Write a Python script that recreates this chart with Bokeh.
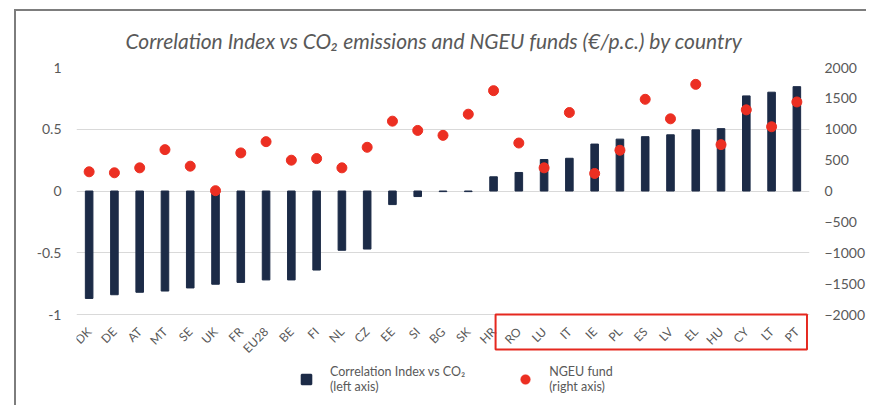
import math
from bokeh.plotting import figure
from bokeh.models import (Range1d, LinearAxis, FixedTicker, CustomJSTickFormatter,
                          Legend, LegendItem, BoxAnnotation, ColumnDataSource)
from bokeh.core.properties import value
from bokeh.embed import file_html
from bokeh.resources import INLINE

countries = ["DK", "DE", "AT", "MT", "SE", "UK", "FR", "EU28", "BE", "FI", "NL", "CZ",
             "EE", "SI", "BG", "SK", "HR", "RO", "LU", "IT", "IE", "PL", "ES", "LV",
             "EL", "HU", "CY", "LT", "PT"]
corr_index = [-0.87, -0.84, -0.82, -0.81, -0.785, -0.755, -0.74, -0.72, -0.72, -0.64,
              -0.48, -0.47, -0.11, -0.045, -0.005, -0.005, 0.115, 0.15, 0.255, 0.265,
              0.38, 0.42, 0.44, 0.455, 0.495, 0.505, 0.77, 0.80, 0.845]
ngeu_fund = [311, 295, 375, 670, 402, 5, 617, 799, 499, 525, 375, 708, 1131, 981, 901,
             1244, 1625, 777, 375, 1271, 284, 660, 1485, 1169, 1727, 751, 1314, 1040, 1442]
left_ticks = [-1, -0.5, 0, 0.5, 1]
right_ticks = [-2000, -1500, -1000, -500, 0, 500, 1000, 1500, 2000]

NAVY = "#1c2b47"
RED = "#ec2f22"
GREY = "#595959"
FONT = "Lato"

# frame extends below the -1 line so that labels, box and legend can live inside it
Y_BOTTOM = -1.753
src = ColumnDataSource(dict(country=countries, corr=corr_index, fund=ngeu_fund,
                            lab_y=[-1.0] * len(countries)))

p = figure(x_range=countries, y_range=Range1d(Y_BOTTOM, 1), width=852, height=396,
           output_backend="svg", toolbar_location=None,
           min_border_left=60, min_border_right=55, min_border_top=56, min_border_bottom=0)
p.margin = (9, 0, 0, 14)
p.styles = {"border-top": "2px solid #7d7d7d", "border-left": "2px solid #7d7d7d"}
p.extra_y_ranges = {"right": Range1d(Y_BOTTOM * 2000, 2000),
                    # range that shows none of the data: used only for legend swatches
                    "legend_proxy": Range1d(5000, 6000)}

p.title.text = "Correlation Index vs CO\u2082 emissions and NGEU funds (\u20ac/p.c.) by country"
p.title.text_font = FONT
p.title.text_font_style = "italic"
p.title.text_font_size = "21px"
p.title.text_color = GREY
p.title.align = "left"
p.title.offset = 49
p.title.standoff = 29

bars = p.vbar(x="country", top="corr", width=0.3, source=src, color=NAVY)
dots = p.scatter(x="country", y="fund", y_range_name="right", source=src,
                 size=10, color=RED, marker="circle")

# legend swatch renderers (their data fall outside their range, so only the legend shows them)
leg_sq = p.scatter(x="country", y="corr", y_range_name="legend_proxy", source=src,
                   marker="square", fill_color=NAVY, line_color=NAVY, line_width=2)
leg_dot = p.scatter(x="country", y="fund", y_range_name="legend_proxy", source=src,
                    marker="circle", fill_color=RED, line_color=RED, line_width=0.5)

# category labels, rotated
p.text(x="country", y="lab_y", text="country", source=src, angle=math.pi / 4,
       text_align="right", text_baseline="middle", x_offset=0, y_offset=15,
       text_font=value(FONT), text_font_size="12px", text_color=GREY)

# axes
p.xaxis.visible = False
p.yaxis.ticker = FixedTicker(ticks=left_ticks)
p.yaxis.formatter = CustomJSTickFormatter(code="return tick.toString();")
ra = LinearAxis(y_range_name="right", ticker=FixedTicker(ticks=right_ticks))
p.add_layout(ra, "right")
for ax in (p.yaxis[0], ra):
    ax.axis_line_color = None
    ax.major_tick_line_color = None
    ax.minor_tick_line_color = None
    ax.major_tick_out = 0
    ax.major_tick_in = 0
    ax.minor_tick_out = 0
    ax.major_label_text_font = FONT
    ax.major_label_text_font_size = "14px"
    ax.major_label_text_color = GREY
p.yaxis[0].major_label_standoff = 15
ra.major_label_standoff = 15

p.xgrid.grid_line_color = None
p.ygrid.grid_line_color = "#d9d9d9"
p.ygrid.ticker = FixedTicker(ticks=left_ticks)
p.outline_line_color = None

box = BoxAnnotation(left=16.58, right=28.9, top=-1.0, bottom=-1.283,
                    fill_alpha=0, line_color="#e5281f", line_width=2, line_alpha=1)
p.add_layout(box)

legend = Legend(items=[
    LegendItem(label="Correlation Index vs CO\u2082\n(left axis)", renderers=[leg_sq], index=0),
    LegendItem(label="NGEU fund\n(right axis)", renderers=[leg_dot], index=0),
], orientation="horizontal", location=(218, 13))
legend.label_text_font = FONT
legend.label_text_font_size = "12.5px"
legend.label_text_line_height = 1.45
legend.label_text_color = GREY
legend.label_standoff = 12
legend.border_line_color = None
legend.background_fill_alpha = 0
legend.spacing = 48
legend.glyph_width = 24
legend.glyph_height = 24
legend.padding = 0
legend.margin = 0
p.add_layout(legend, "center")

open("out.html", "w").write(file_html(p, INLINE))
